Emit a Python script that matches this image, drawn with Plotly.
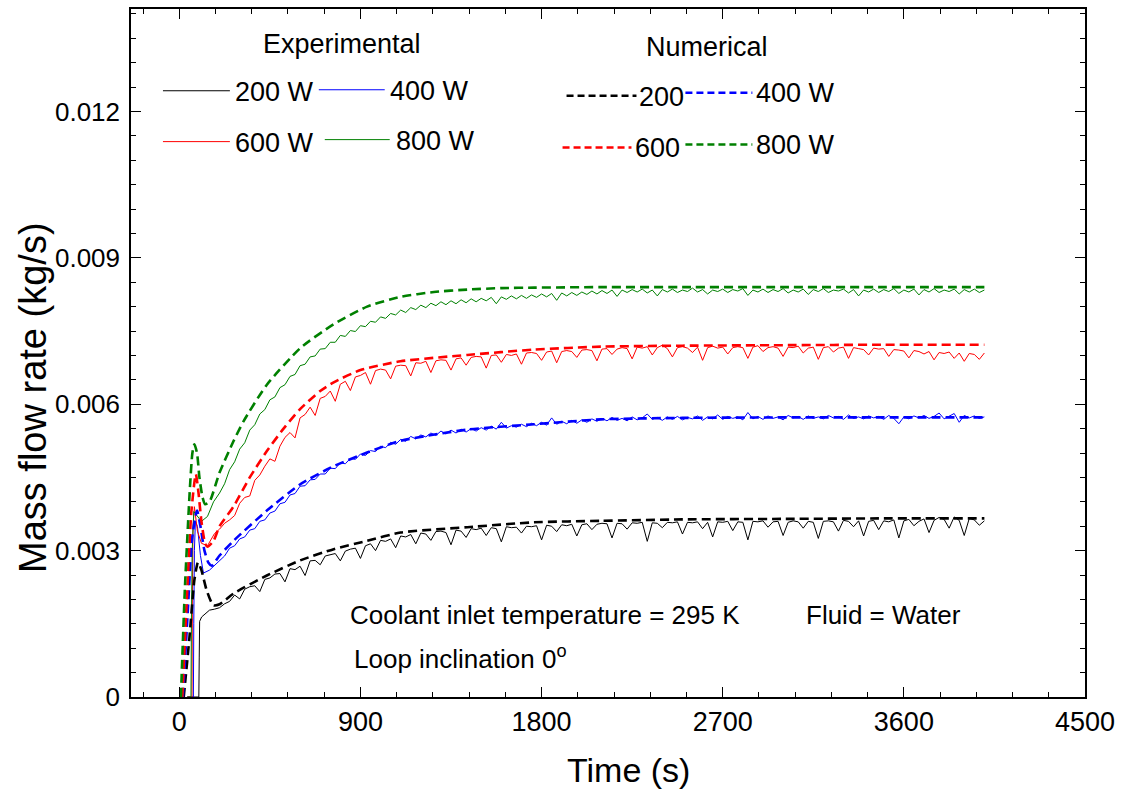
import plotly.graph_objects as go

# ---------------- data (kg/s vs s) ----------------
# Experimental: start-up transient
exp_t_start_200 = [40, 97, 99, 101, 111, 128, 150, 175]
exp_m_start_200 = [0, 0, 0.0008, 0.00155, 0.00164, 0.00171, 0.00178, 0.00180]
exp_t_start_400 = [40, 70, 72, 75, 80, 90, 105, 120, 150, 175]
exp_m_start_400 = [0, 0, 0.0015, 0.0030, 0.0036, 0.0035, 0.0029, 0.00254, 0.0026, 0.0027]
exp_t_start_600 = [40, 63, 65, 68, 75, 90, 110, 140, 175]
exp_m_start_600 = [0, 0, 0.0020, 0.0035, 0.0039, 0.0034, 0.00315, 0.0031, 0.00335]
exp_t_start_800 = [40, 58, 60, 64, 72, 90, 110, 140, 170]
exp_m_start_800 = [0, 0, 0.0015, 0.0030, 0.0038, 0.0037, 0.0036, 0.0037, 0.0040]

# Experimental: logged every 25 s from 200 s to 4000 s
exp_t_body = list(range(200, 4001, 25))
exp_m_200 = [
    0.00183, 0.00191, 0.00196, 0.00209, 0.00201, 0.00221, 0.00226, 0.00228, 0.00216, 0.00241,
    0.00244, 0.00252, 0.00253, 0.00236, 0.00263, 0.00261, 0.00268, 0.00249, 0.00279, 0.00280,
    0.00271, 0.00289, 0.00291, 0.00294, 0.00279, 0.00299, 0.00303, 0.00305, 0.00284, 0.00310,
    0.00314, 0.00300, 0.00321, 0.00319, 0.00324, 0.00306, 0.00330, 0.00328, 0.00333, 0.00314,
    0.00336, 0.00334, 0.00321, 0.00339, 0.00340, 0.00337, 0.00312, 0.00342, 0.00340, 0.00327,
    0.00345, 0.00343, 0.00346, 0.00331, 0.00347, 0.00345, 0.00318, 0.00349, 0.00347, 0.00348,
    0.00336, 0.00350, 0.00349, 0.00351, 0.00322, 0.00352, 0.00350, 0.00339, 0.00353, 0.00351,
    0.00354, 0.00330, 0.00353, 0.00355, 0.00343, 0.00354, 0.00356, 0.00355, 0.00326, 0.00356,
    0.00355, 0.00344, 0.00357, 0.00356, 0.00358, 0.00319, 0.00357, 0.00356, 0.00347, 0.00358,
    0.00357, 0.00359, 0.00334, 0.00358, 0.00357, 0.00359, 0.00345, 0.00358, 0.00328, 0.00359,
    0.00358, 0.00360, 0.00341, 0.00359, 0.00358, 0.00322, 0.00360, 0.00359, 0.00361, 0.00348,
    0.00359, 0.00360, 0.00331, 0.00358, 0.00361, 0.00359, 0.00346, 0.00360, 0.00358, 0.00325,
    0.00360, 0.00361, 0.00359, 0.00340, 0.00362, 0.00360, 0.00349, 0.00361, 0.00330, 0.00360,
    0.00362, 0.00343, 0.00361, 0.00359, 0.00363, 0.00326, 0.00361, 0.00364, 0.00351, 0.00360,
    0.00365, 0.00337, 0.00362, 0.00368, 0.00364, 0.00346, 0.00369, 0.00362, 0.00331, 0.00366,
    0.00363, 0.00352, 0.00361,
]
exp_m_400 = [
    0.00281, 0.00289, 0.00305, 0.00310, 0.00324, 0.00328, 0.00342, 0.00345, 0.00360, 0.00363,
    0.00377, 0.00381, 0.00396, 0.00399, 0.00414, 0.00417, 0.00432, 0.00433, 0.00445, 0.00446,
    0.00457, 0.00457, 0.00469, 0.00468, 0.00480, 0.00478, 0.00489, 0.00487, 0.00498, 0.00495,
    0.00505, 0.00503, 0.00514, 0.00511, 0.00522, 0.00518, 0.00528, 0.00524, 0.00534, 0.00529,
    0.00537, 0.00533, 0.00541, 0.00536, 0.00545, 0.00539, 0.00547, 0.00541, 0.00549, 0.00543,
    0.00550, 0.00545, 0.00552, 0.00547, 0.00555, 0.00549, 0.00563, 0.00551, 0.00556, 0.00553,
    0.00559, 0.00554, 0.00561, 0.00556, 0.00563, 0.00557, 0.00572, 0.00559, 0.00565, 0.00560,
    0.00567, 0.00561, 0.00568, 0.00563, 0.00570, 0.00565, 0.00571, 0.00566, 0.00573, 0.00567,
    0.00571, 0.00566, 0.00574, 0.00568, 0.00572, 0.00580, 0.00569, 0.00573, 0.00567, 0.00574,
    0.00569, 0.00575, 0.00568, 0.00573, 0.00570, 0.00576, 0.00567, 0.00574, 0.00570, 0.00578,
    0.00569, 0.00575, 0.00571, 0.00574, 0.00568, 0.00583, 0.00570, 0.00575, 0.00569, 0.00576,
    0.00571, 0.00574, 0.00568, 0.00577, 0.00572, 0.00575, 0.00569, 0.00576, 0.00571, 0.00574,
    0.00570, 0.00577, 0.00572, 0.00575, 0.00569, 0.00578, 0.00571, 0.00574, 0.00570, 0.00576,
    0.00572, 0.00575, 0.00569, 0.00577, 0.00571, 0.00560, 0.00574, 0.00570, 0.00576, 0.00572,
    0.00577, 0.00571, 0.00575, 0.00582, 0.00570, 0.00576, 0.00581, 0.00563, 0.00577, 0.00572,
    0.00576, 0.00571, 0.00574,
]
exp_m_600 = [
    0.00344, 0.00356, 0.00363, 0.00372, 0.00397, 0.00409, 0.00412, 0.00444, 0.00455, 0.00473,
    0.00488, 0.00483, 0.00514, 0.00532, 0.00542, 0.00531, 0.00572, 0.00579, 0.00594, 0.00577,
    0.00612, 0.00616, 0.00627, 0.00606, 0.00641, 0.00647, 0.00628, 0.00656, 0.00659, 0.00665,
    0.00641, 0.00669, 0.00672, 0.00670, 0.00652, 0.00678, 0.00680, 0.00679, 0.00658, 0.00685,
    0.00684, 0.00688, 0.00665, 0.00689, 0.00691, 0.00690, 0.00670, 0.00693, 0.00695, 0.00680,
    0.00696, 0.00698, 0.00697, 0.00674, 0.00700, 0.00701, 0.00686, 0.00702, 0.00700, 0.00703,
    0.00682, 0.00705, 0.00706, 0.00704, 0.00690, 0.00707, 0.00709, 0.00685, 0.00708, 0.00710,
    0.00708, 0.00696, 0.00711, 0.00712, 0.00710, 0.00689, 0.00713, 0.00714, 0.00702, 0.00713,
    0.00716, 0.00714, 0.00693, 0.00717, 0.00715, 0.00718, 0.00701, 0.00716, 0.00721, 0.00714,
    0.00697, 0.00716, 0.00718, 0.00715, 0.00706, 0.00717, 0.00690, 0.00716, 0.00719, 0.00715,
    0.00717, 0.00703, 0.00716, 0.00718, 0.00716, 0.00694, 0.00717, 0.00720, 0.00708, 0.00716,
    0.00718, 0.00715, 0.00698, 0.00717, 0.00716, 0.00719, 0.00705, 0.00715, 0.00717, 0.00692,
    0.00716, 0.00718, 0.00707, 0.00715, 0.00717, 0.00694, 0.00716, 0.00714, 0.00712, 0.00701,
    0.00715, 0.00713, 0.00714, 0.00698, 0.00712, 0.00711, 0.00709, 0.00695, 0.00710, 0.00708,
    0.00703, 0.00708, 0.00691, 0.00706, 0.00704, 0.00707, 0.00694, 0.00705, 0.00688, 0.00704,
    0.00702, 0.00692, 0.00705,
]
exp_m_800 = [
    0.00418, 0.00437, 0.00466, 0.00482, 0.00508, 0.00521, 0.00547, 0.00558, 0.00580, 0.00589,
    0.00609, 0.00615, 0.00634, 0.00640, 0.00657, 0.00661, 0.00679, 0.00682, 0.00697, 0.00699,
    0.00713, 0.00714, 0.00727, 0.00727, 0.00741, 0.00739, 0.00751, 0.00749, 0.00761, 0.00759,
    0.00770, 0.00768, 0.00779, 0.00776, 0.00786, 0.00783, 0.00793, 0.00788, 0.00798, 0.00794,
    0.00803, 0.00798, 0.00807, 0.00802, 0.00810, 0.00804, 0.00812, 0.00806, 0.00814, 0.00808,
    0.00816, 0.00810, 0.00817, 0.00812, 0.00819, 0.00806, 0.00820, 0.00815, 0.00822, 0.00816,
    0.00823, 0.00817, 0.00824, 0.00819, 0.00826, 0.00820, 0.00827, 0.00813, 0.00828, 0.00822,
    0.00829, 0.00823, 0.00830, 0.00825, 0.00832, 0.00826, 0.00833, 0.00827, 0.00834, 0.00821,
    0.00834, 0.00829, 0.00835, 0.00830, 0.00836, 0.00828, 0.00834, 0.00822, 0.00835, 0.00830,
    0.00836, 0.00829, 0.00834, 0.00831, 0.00838, 0.00830, 0.00835, 0.00826, 0.00834, 0.00831,
    0.00836, 0.00829, 0.00835, 0.00832, 0.00837, 0.00823, 0.00834, 0.00830, 0.00836, 0.00829,
    0.00835, 0.00831, 0.00837, 0.00828, 0.00834, 0.00830, 0.00836, 0.00825, 0.00835, 0.00831,
    0.00837, 0.00829, 0.00834, 0.00832, 0.00836, 0.00828, 0.00835, 0.00822, 0.00834, 0.00830,
    0.00836, 0.00829, 0.00835, 0.00831, 0.00837, 0.00827, 0.00834, 0.00830, 0.00836, 0.00824,
    0.00835, 0.00830, 0.00837, 0.00829, 0.00834, 0.00831, 0.00836, 0.00826, 0.00835, 0.00830,
    0.00836, 0.00829, 0.00834,
]

# Numerical predictions
num_t_200 = [22, 50, 75, 93, 110, 135, 169, 200, 269, 435, 601, 767, 933, 1099, 1431, 1763, 2095, 2500, 3000, 3500, 4000]
num_m_200 = [0, 0.0012, 0.0024, 0.00276, 0.0026, 0.0022, 0.00188, 0.0019, 0.00212, 0.00249, 0.0028,
             0.00303, 0.0032, 0.00337, 0.00348, 0.00358, 0.00361, 0.00364, 0.00365, 0.00366, 0.00366]
num_t_400 = [18, 40, 65, 88, 105, 125, 145, 161, 200, 269, 435, 601, 767, 933, 1099, 1431, 1763, 2095, 2500, 3000, 3500, 4000]
num_m_400 = [0, 0.0016, 0.0033, 0.00382, 0.0035, 0.0030, 0.00275, 0.00269, 0.0029, 0.0032, 0.00382,
             0.00436, 0.00473, 0.00501, 0.00525, 0.00548, 0.00559, 0.00569, 0.00572, 0.00573, 0.00573, 0.00573]
num_t_600 = [15, 35, 60, 82, 95, 110, 128, 140, 170, 200, 269, 350, 435, 518, 600, 700, 767, 900, 1099, 1431, 1763, 2095, 2500, 3000, 3500, 4000]
num_m_600 = [0, 0.0018, 0.0038, 0.00457, 0.0042, 0.0036, 0.00315, 0.00308, 0.0032, 0.0035, 0.0039, 0.0045,
             0.00504, 0.0055, 0.0059, 0.00627, 0.00645, 0.0067, 0.00688, 0.00701, 0.00712, 0.00718,
             0.0072, 0.00721, 0.00722, 0.00722]
num_t_800 = [8, 28, 53, 65, 75, 88, 100, 115, 128, 150, 200, 269, 319, 435, 601, 767, 933, 1099, 1265, 1431, 1600, 1763, 2095, 2500, 3000, 3500, 4000]
num_m_800 = [0, 0.00225, 0.0043, 0.0050, 0.00518, 0.0050, 0.0045, 0.0041, 0.00395, 0.0040, 0.0046, 0.00524,
             0.00565, 0.0064, 0.00715, 0.00764, 0.0080, 0.0082, 0.0083, 0.00835, 0.00838, 0.00839,
             0.0084, 0.0084, 0.0084, 0.0084, 0.0084]

power_labels = ["200 W", "400 W", "600 W", "800 W"]
colors = ["#000000", "#0000ff", "#ff0000", "#008000"]

y_tickvals = [0, 0.003, 0.006, 0.009, 0.012]
y_ticktext = ["0", "0.003", "0.006", "0.009", "0.012"]
x_tickvals = [0, 900, 1800, 2700, 3600, 4500]

FONT = "Liberation Sans, Arial, sans-serif"
W, H = 1122, 790
ML, MR, MT, MB = 131, 36, 7, 93

def px(x):
    return (x - ML) / (W - ML - MR)

def py(y):
    return (H - MB - y) / (H - MT - MB)

fig = go.Figure()

exp_sets = [
    (exp_t_start_200, exp_m_start_200, exp_m_200),
    (exp_t_start_400, exp_m_start_400, exp_m_400),
    (exp_t_start_600, exp_m_start_600, exp_m_600),
    (exp_t_start_800, exp_m_start_800, exp_m_800),
]
for (ts, ms, mb), c, lab in zip(exp_sets, colors, power_labels):
    fig.add_trace(go.Scatter(
        x=ts + exp_t_body, y=ms + mb, mode="lines",
        line=dict(color=c, width=1), name="Exp " + lab, showlegend=False,
    ))

num_sets = [(num_t_200, num_m_200), (num_t_400, num_m_400), (num_t_600, num_m_600), (num_t_800, num_m_800)]
for (t, m), c, lab in zip(num_sets, colors, power_labels):
    fig.add_trace(go.Scatter(
        x=t, y=m, mode="lines",
        line=dict(color=c, width=2.6, dash="9px,5px", shape="spline", smoothing=0.6),
        name="Num " + lab, showlegend=False,
    ))

shapes = []
annotations = []

def text(x, y, s, size=27, xanchor="left"):
    annotations.append(dict(
        x=px(x), y=py(y), xref="paper", yref="paper", text=s, showarrow=False,
        xanchor=xanchor, yanchor="middle", font=dict(family=FONT, size=size, color="black"),
    ))

def seg(x0, x1, y, color, width, dash="solid"):
    shapes.append(dict(
        type="line", xref="paper", yref="paper", x0=px(x0), x1=px(x1), y0=py(y), y1=py(y),
        line=dict(color=color, width=width, dash=dash),
    ))

# Legend block: experimental
text(342, 42, "Experimental", 27, "center")
seg(163, 230, 89, colors[0], 1)
text(233, 90, power_labels[0])
seg(319, 385, 88, colors[1], 1)
text(388, 89, power_labels[1])
seg(163, 230, 140, colors[2], 1)
text(233, 141, power_labels[2])
seg(325, 390, 138, colors[3], 1)
text(394, 139, power_labels[3])

# Legend block: numerical
text(708, 45, "Numerical", 27, "center")
seg(567, 637, 94, colors[0], 2.5, "7px,4px")
text(638, 95, "200")
seg(686, 753, 91, colors[1], 2.5, "7px,4px")
text(755, 91, power_labels[1])
seg(563, 632, 146, colors[2], 2.5, "7px,4px")
text(634, 146, "600")
seg(686, 753, 143, colors[3], 2.5, "7px,4px")
text(755, 143, power_labels[3])

# Test conditions
text(348, 615, "Coolant inlet temperature = 295 K", 26)
text(352, 657, "Loop inclination 0<sup>o</sup>", 26)
text(805, 615, "Fluid = Water", 26)

# Axis titles
annotations.append(dict(
    x=px(33), y=py(397), xref="paper", yref="paper", text="Mass flow rate (kg/s)",
    showarrow=False, textangle=-90, xanchor="center", yanchor="middle",
    font=dict(family=FONT, size=38, color="black"),
))
annotations.append(dict(
    x=px(629), y=py(770), xref="paper", yref="paper", text="Time (s)",
    showarrow=False, xanchor="center", yanchor="middle",
    font=dict(family=FONT, size=34, color="black"),
))

axis_common = dict(
    showline=True, linecolor="black", linewidth=1.5, mirror="allticks",
    ticks="inside", ticklen=10, tickwidth=1.2, tickcolor="black",
    showgrid=False, zeroline=False,
)

fig.update_layout(
    width=W, height=H,
    margin=dict(l=ML, r=MR, t=MT, b=MB),
    paper_bgcolor="white", plot_bgcolor="white",
    font=dict(family=FONT, color="black"),
    shapes=shapes, annotations=annotations,
    xaxis=dict(
        range=[-240, 4500], tickvals=x_tickvals, tickfont=dict(family=FONT, size=27),
        minor=dict(ticks="inside", ticklen=5, dtick=180, tick0=0, tickcolor="black", tickwidth=1),
        **axis_common,
    ),
    yaxis=dict(
        range=[0, 0.0141], tickvals=y_tickvals, ticktext=y_ticktext,
        tickfont=dict(family=FONT, size=26), ticklabelstandoff=4,
        minor=dict(ticks="inside", ticklen=5, dtick=0.0005, tick0=0, tickcolor="black", tickwidth=1),
        **axis_common,
    ),
)

fig.write_html("out.html")
